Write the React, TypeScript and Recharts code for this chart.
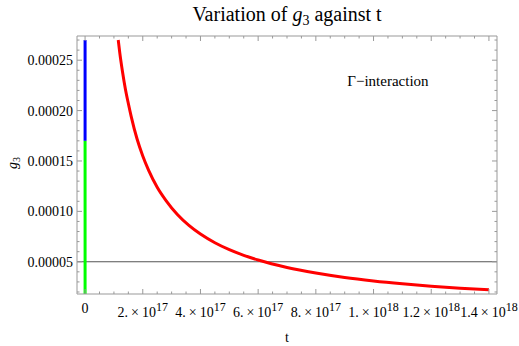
import React from "react";
import {
  LineChart,
  Line,
  XAxis,
  YAxis,
  ReferenceLine,
  ReferenceDot,
} from "recharts";

// t values (x), g3 values (y)
const redT = [
  1.15e17, 1.2e17, 1.3e17, 1.4e17, 1.5e17, 1.6e17, 1.8e17, 2.0e17, 2.2e17,
  2.5e17, 2.8e17, 3.2e17, 3.6e17, 4.0e17, 4.5e17, 5.0e17, 5.5e17, 6.0e17,
  7.0e17, 8.0e17, 9.0e17, 1.0e18, 1.1e18, 1.2e18, 1.3e18, 1.4e18,
];
const redG = [
  0.00027, 0.000258, 0.000238, 0.000221, 0.000207, 0.000194, 0.000172,
  0.000155, 0.000141, 0.000124, 0.000111, 0.0000969, 0.0000861, 0.0000775,
  0.0000689, 0.000062, 0.0000564, 0.0000517, 0.0000443, 0.0000388,
  0.0000344, 0.000031, 0.0000282, 0.0000258, 0.0000238, 0.0000221,
];

// the vertical segment at t = 0: green part, then blue part
const greenG = [0, 0.00017];
const blueG = [0.00017, 0.00027];

const hLineValue = 0.00005;

const xMajorTicks = [0, 2e17, 4e17, 6e17, 8e17, 1e18, 1.2e18, 1.4e18];
const xTickMantissa = ["0", "2.", "4.", "6.", "8.", "1.", "1.2", "1.4"];
const xTickExponent = ["", "17", "17", "17", "17", "18", "18", "18"];

const yMajorTicks = [0.00005, 0.0001, 0.00015, 0.0002, 0.00025];
const yTickLabels = ["0.00005", "0.00010", "0.00015", "0.00020", "0.00025"];

const xDomain = [-2.8e16, 1.428e18];
const yDomain = [0.000018, 0.000274];

const redData = redT.map((t, i) => ({ t, g: redG[i] }));
const greenData = greenG.map((g) => ({ t: 0, g }));
const blueData = blueG.map((g) => ({ t: 0, g }));

// minor ticks every 5e16 on x, every 1e-5 on y
const xMinorTicks: number[] = [];
for (let i = 1; i <= 28; i++) if (i % 4 !== 0) xMinorTicks.push(i * 5e16);
const yMinorTicks: number[] = [];
for (let i = 2; i <= 27; i++) if (i % 5 !== 0) yMinorTicks.push(i * 1e-5);

const xAllTicks = [...xMajorTicks, ...xMinorTicks];
const yAllTicks = [...yMajorTicks, ...yMinorTicks];

const FONT = "Liberation Serif";
const FRAME = "#999";
const MAJOR = 5;
const MINOR = 2.5;

const xIndex = (v: number) => xMajorTicks.findIndex((m) => Math.abs(m - v) < 1e6);
const yIndex = (v: number) => yMajorTicks.findIndex((m) => Math.abs(m - v) < 1e-9);

function BottomTick(props: any) {
  const { x, y, payload } = props;
  const idx = xIndex(payload.value);
  const major = idx >= 0;
  return (
    <g>
      <line x1={x} x2={x} y1={y} y2={y - (major ? MAJOR : MINOR)} stroke={FRAME} />
      {major && (
        <text
          x={x}
          y={y + (xTickExponent[idx] ? 23 : 19)}
          textAnchor="middle"
          fontFamily={FONT}
          fontSize={14}
          fill="#000"
        >
          {xTickMantissa[idx]}
          {xTickExponent[idx] && (
            <>
              <tspan dx={3}>×</tspan>
              <tspan dx={3}>10</tspan>
              <tspan dy={-6} fontSize={12}>
                {xTickExponent[idx]}
              </tspan>
            </>
          )}
        </text>
      )}
    </g>
  );
}

function TopTick(props: any) {
  const { x, y, payload } = props;
  const major = xIndex(payload.value) >= 0;
  return <line x1={x} x2={x} y1={y} y2={y + (major ? MAJOR : MINOR)} stroke={FRAME} />;
}

function LeftTick(props: any) {
  const { x, y, payload } = props;
  const idx = yIndex(payload.value);
  const major = idx >= 0;
  return (
    <g>
      <line x1={x} x2={x + (major ? MAJOR : MINOR)} y1={y} y2={y} stroke={FRAME} />
      {major && (
        <text
          x={x - 4}
          y={y + 5}
          textAnchor="end"
          fontFamily={FONT}
          fontSize={14}
          fill="#000"
        >
          {yTickLabels[idx]}
        </text>
      )}
    </g>
  );
}

function RightTick(props: any) {
  const { x, y, payload } = props;
  const major = yIndex(payload.value) >= 0;
  return <line x1={x} x2={x - (major ? MAJOR : MINOR)} y1={y} y2={y} stroke={FRAME} />;
}

export default function App() {
  return (
    <div
      style={{
        position: "absolute",
        left: 0,
        top: 0,
        width: 519,
        height: 346,
        background: "#fff",
        fontFamily: FONT,
      }}
    >
      <LineChart
        width={519}
        height={346}
        margin={{ top: 35, right: 21, bottom: 12, left: 0 }}
      >
        <XAxis
          dataKey="t"
          type="number"
          domain={xDomain}
          allowDataOverflow
          ticks={xAllTicks}
          interval={0}
          tickSize={0}
          tickMargin={0}
          height={40}
          stroke={FRAME}
          tick={<BottomTick />}
        />
        <XAxis
          xAxisId="top"
          orientation="top"
          dataKey="t"
          type="number"
          domain={xDomain}
          allowDataOverflow
          ticks={xAllTicks}
          interval={0}
          tickSize={0}
          tickMargin={0}
          height={1}
          stroke={FRAME}
          tick={<TopTick />}
        />
        <YAxis
          dataKey="g"
          type="number"
          domain={yDomain}
          allowDataOverflow
          ticks={yAllTicks}
          interval={0}
          tickSize={0}
          tickMargin={0}
          width={77}
          stroke={FRAME}
          tick={<LeftTick />}
        />
        <YAxis
          yAxisId="right"
          orientation="right"
          dataKey="g"
          type="number"
          domain={yDomain}
          allowDataOverflow
          ticks={yAllTicks}
          interval={0}
          tickSize={0}
          tickMargin={0}
          width={1}
          stroke={FRAME}
          tick={<RightTick />}
        />
        <ReferenceLine y={hLineValue} stroke="#555" strokeWidth={1} />
        <Line
          data={greenData}
          dataKey="g"
          stroke="#00ff00"
          strokeWidth={3}
          dot={false}
          isAnimationActive={false}
        />
        <Line
          data={blueData}
          dataKey="g"
          stroke="#0000ff"
          strokeWidth={3}
          dot={false}
          isAnimationActive={false}
        />
        <Line
          data={redData}
          dataKey="g"
          type="monotone"
          stroke="#ff0000"
          strokeWidth={3}
          dot={false}
          isAnimationActive={false}
        />
        <ReferenceDot
          x={1.05e18}
          y={0.00023}
          r={0}
          fill="none"
          stroke="none"
          label={{
            value: "Γ−interaction",
            position: "center",
            fontFamily: FONT,
            fontSize: 15,
            fill: "#000",
          }}
        />
      </LineChart>
      <svg
        width={519}
        height={346}
        style={{ position: "absolute", left: 0, top: 0, pointerEvents: "none" }}
      >
        <text
          x={287}
          y={21}
          textAnchor="middle"
          fontFamily={FONT}
          fontSize={20}
          fill="#000"
        >
          Variation of <tspan fontStyle="italic">g</tspan>
          <tspan dy={4} fontSize={14}>3</tspan>
          <tspan dy={-4}> against t</tspan>
        </text>
        <text x={287} y={342} textAnchor="middle" fontFamily={FONT} fontSize={14}>
          t
        </text>
        <text
          transform="translate(17,163) rotate(-90)"
          textAnchor="middle"
          fontFamily={FONT}
          fontSize={14}
        >
          <tspan fontStyle="italic">g</tspan>
          <tspan dy={3} fontSize={10}>3</tspan>
        </text>
      </svg>
    </div>
  );
}
